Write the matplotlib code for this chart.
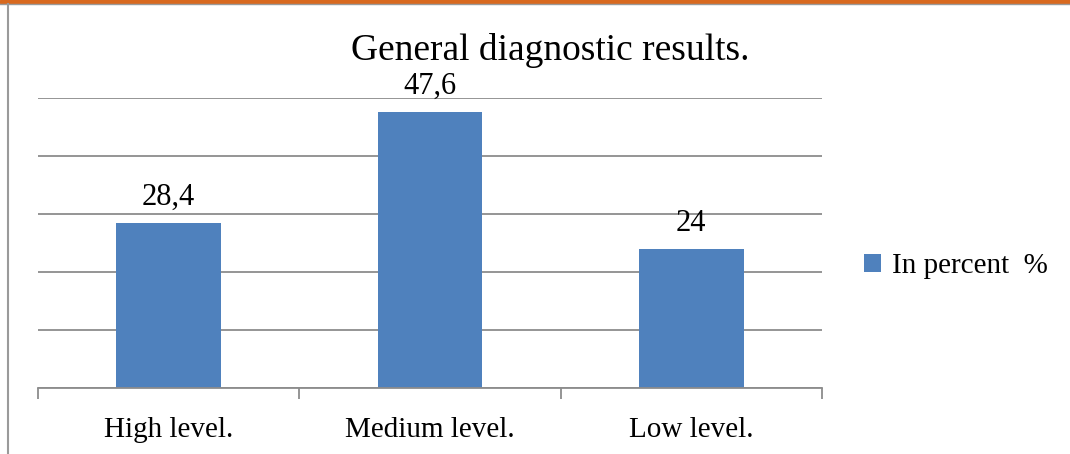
import matplotlib
matplotlib.use('Agg')
from matplotlib import pyplot as plt
from matplotlib.patches import Rectangle
from matplotlib.lines import Line2D
import numpy as np

categories = ['High level.', 'Medium level.', 'Low level.']
values = [28.4, 47.6, 24]
value_labels = ['28,4', '47,6', '24']
series_name = 'In percent  %'
title = 'General diagnostic results.'

plt.rcParams['font.family'] = ['Liberation Serif', 'DejaVu Serif']

W, H = 1070, 454
fig = plt.figure(figsize=(W / 100, H / 100), dpi=100)

# frame bits of the original page capture
fig.patches.append(Rectangle((0, 1 - 3 / H), 1, 3 / H, transform=fig.transFigure,
                             color='#d8691f', zorder=0))
fig.lines.append(Line2D([0, 1], [1 - 4 / H, 1 - 4 / H], transform=fig.transFigure,
                        color='#9a9a9a', linewidth=1))
fig.lines.append(Line2D([8 / W, 8 / W], [0, 1 - 4 / H], transform=fig.transFigure,
                        color='#9a9a9a', linewidth=1.5))

ax = fig.add_axes([38 / W, (H - 388) / H, (822 - 38) / W, (388 - 98) / H])
x = np.arange(len(categories))
ax.bar(x, values, width=0.4, color='#4f81bd', zorder=2, label=series_name)
ax.set_xlim(-0.5, len(categories) - 0.5)
ax.set_ylim(0, 50)
ax.set_yticks(np.arange(0, 51, 10))
ax.yaxis.grid(True, color='#8c8c8c', linewidth=1.3, zorder=0)
ax.tick_params(axis='y', left=False, labelleft=False)
for s in ['left', 'right', 'top']:
    ax.spines[s].set_visible(False)
ax.spines['bottom'].set_color('#8c8c8c')
ax.spines['bottom'].set_linewidth(1.3)

ax.set_xticks(x)
ax.set_xticklabels(categories, fontsize=21)
ax.tick_params(axis='x', length=0, pad=21)
ax.set_xticks(np.arange(-0.5, len(categories), 1), minor=True)
ax.tick_params(axis='x', which='minor', length=8, width=1.3, color='#8c8c8c')

for xi, v, lab in zip(x, values, value_labels):
    ax.annotate(lab, (xi, v), xytext=(0, 13), textcoords='offset points',
                ha='center', va='baseline', fontsize=22)

fig.text(550 / W, 1 - 50 / H, title, ha='center', va='center', fontsize=27)

ax.legend(loc='center left', bbox_to_anchor=(1.02, 0.42), frameon=False,
          fontsize=21, handlelength=0.6, handleheight=0.6, handletextpad=0.35)

fig.savefig('out.png', dpi=100)
